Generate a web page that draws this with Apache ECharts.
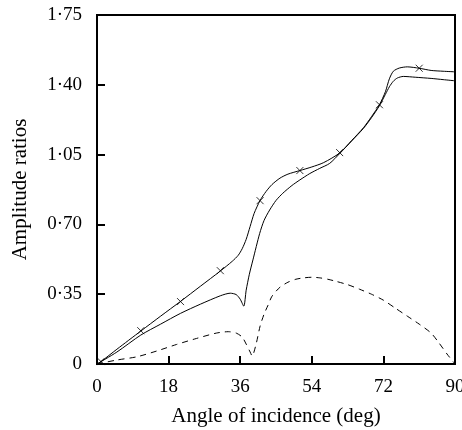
<!DOCTYPE html>
<html>
<head>
<meta charset="utf-8">
<script src="https://cdn.jsdelivr.net/npm/echarts@6/dist/echarts.min.js"></script>
<style>
  html, body { margin: 0; padding: 0; background: #fff; }
  #main { width: 462px; height: 430px; }
</style>
</head>
<body>
<div id="main"></div>
<script>
// upper solid curve (the one with x markers)
var angleUpper = [0, 1, 5, 11, 16, 21, 26, 31, 34, 35.5, 36.5, 37.5, 38.5, 39.5, 41, 42.5, 44, 46, 48, 51, 54, 57, 61, 64, 67, 69, 71, 72.5, 73.5, 74.5, 76, 78, 81, 84, 87, 90];
var ampUpper = [0, 0.012, 0.074, 0.165, 0.24, 0.314, 0.39, 0.466, 0.515, 0.545, 0.578, 0.625, 0.69, 0.755, 0.82, 0.865, 0.9, 0.932, 0.952, 0.97, 0.988, 1.01, 1.058, 1.12, 1.185, 1.24, 1.3, 1.365, 1.43, 1.468, 1.484, 1.49, 1.483, 1.472, 1.468, 1.465];

// lower solid curve
var angleLower = [0, 5, 11, 16, 21, 26, 31, 33.5, 35, 36, 36.9, 37.5, 38.3, 39.2, 40.9, 42, 43.4, 45, 46.7, 49, 51, 53.5, 56, 58.5, 61, 64, 67, 69, 71, 72.5, 73.5, 74.5, 75.5, 77, 80, 84, 87, 90];
var ampLower = [0, 0.06, 0.145, 0.2, 0.254, 0.3, 0.342, 0.355, 0.348, 0.325, 0.29, 0.37, 0.45, 0.522, 0.655, 0.72, 0.772, 0.82, 0.856, 0.895, 0.923, 0.955, 0.981, 1.006, 1.055, 1.118, 1.182, 1.235, 1.295, 1.352, 1.39, 1.418, 1.434, 1.442, 1.438, 1.432, 1.426, 1.42];

// dashed curve
var angleDashed = [0, 5, 10, 15, 20, 25, 30, 33, 35, 36.5, 37.5, 38.5, 39, 40, 41, 42, 43, 44, 46, 48, 50, 52, 54, 56, 58, 60, 63, 66, 69, 72, 75, 78, 81, 84, 86, 88, 90];
var ampDashed = [0, 0.02, 0.036, 0.065, 0.098, 0.128, 0.155, 0.162, 0.155, 0.135, 0.1, 0.06, 0.04, 0.1, 0.19, 0.25, 0.295, 0.34, 0.385, 0.41, 0.425, 0.432, 0.435, 0.432, 0.425, 0.415, 0.398, 0.375, 0.35, 0.32, 0.28, 0.24, 0.2, 0.155, 0.105, 0.05, 0];

// x markers on the upper curve
var markerAngle = [1, 11, 21, 31, 41, 51, 61, 71, 81];
var markerAmp = [0.012, 0.167, 0.313, 0.468, 0.819, 0.97, 1.06, 1.3, 1.483];

var xTicks = [0, 18, 36, 54, 72, 90];
var yTicks = [0, 0.35, 0.70, 1.05, 1.40, 1.75];

function pairs(xs, ys) {
  var out = [];
  for (var i = 0; i < xs.length; i++) out.push([xs[i], ys[i]]);
  return out;
}

var serif = "Liberation Serif";
var chart = echarts.init(document.getElementById("main"));
chart.setOption({
  animation: false,
  backgroundColor: "#fff",
  grid: {
    left: 97,
    right: 7,
    top: 15,
    bottom: 66,
    containLabel: false,
    outerBoundsMode: "none",
    show: true,
    borderColor: "#000",
    borderWidth: 2
  },
  xAxis: {
    type: "value",
    min: xTicks[0],
    max: xTicks[xTicks.length - 1],
    interval: xTicks[1] - xTicks[0],
    name: "Angle of incidence (deg)",
    nameLocation: "middle",
    nameGap: 42,
    nameTextStyle: { fontFamily: serif, fontSize: 21, color: "#000" },
    axisLine: { lineStyle: { color: "#000", width: 2 } },
    axisTick: { inside: true, length: 8, lineStyle: { color: "#000", width: 2 } },
    axisLabel: { margin: 14, fontFamily: serif, fontSize: 19, color: "#000" },
    splitLine: { show: false }
  },
  yAxis: {
    type: "value",
    min: yTicks[0],
    max: yTicks[yTicks.length - 1],
    interval: 0.35,
    name: "Amplitude ratios",
    nameLocation: "middle",
    nameGap: 66,
    nameTextStyle: { fontFamily: serif, fontSize: 21, color: "#000" },
    axisLine: { lineStyle: { color: "#000", width: 2 } },
    axisTick: { inside: true, length: 8, lineStyle: { color: "#000", width: 2 } },
    axisLabel: {
      margin: 15,
      fontFamily: serif,
      fontSize: 19,
      color: "#000",
      formatter: function (v) {
        if (v === 0) return "0";
        return v.toFixed(2).replace(".", "\u00b7");
      }
    },
    splitLine: { show: false }
  },
  series: [
    {
      type: "line",
      data: pairs(angleUpper, ampUpper),
      smooth: 0.25,
      showSymbol: false,
      lineStyle: { color: "#000", width: 1 }
    },
    {
      type: "line",
      data: pairs(angleLower, ampLower),
      smooth: 0.25,
      showSymbol: false,
      lineStyle: { color: "#000", width: 1 }
    },
    {
      type: "line",
      data: pairs(angleDashed, ampDashed),
      smooth: 0.25,
      showSymbol: false,
      lineStyle: { color: "#000", width: 1, type: [6, 5] }
    },
    {
      type: "scatter",
      data: pairs(markerAngle, markerAmp),
      symbol: "path://M0,0L10,10M10,0L0,10",
      symbolSize: 7,
      itemStyle: { color: "none", borderColor: "#000", borderWidth: 1 }
    }
  ]
});
</script>
</body>
</html>
